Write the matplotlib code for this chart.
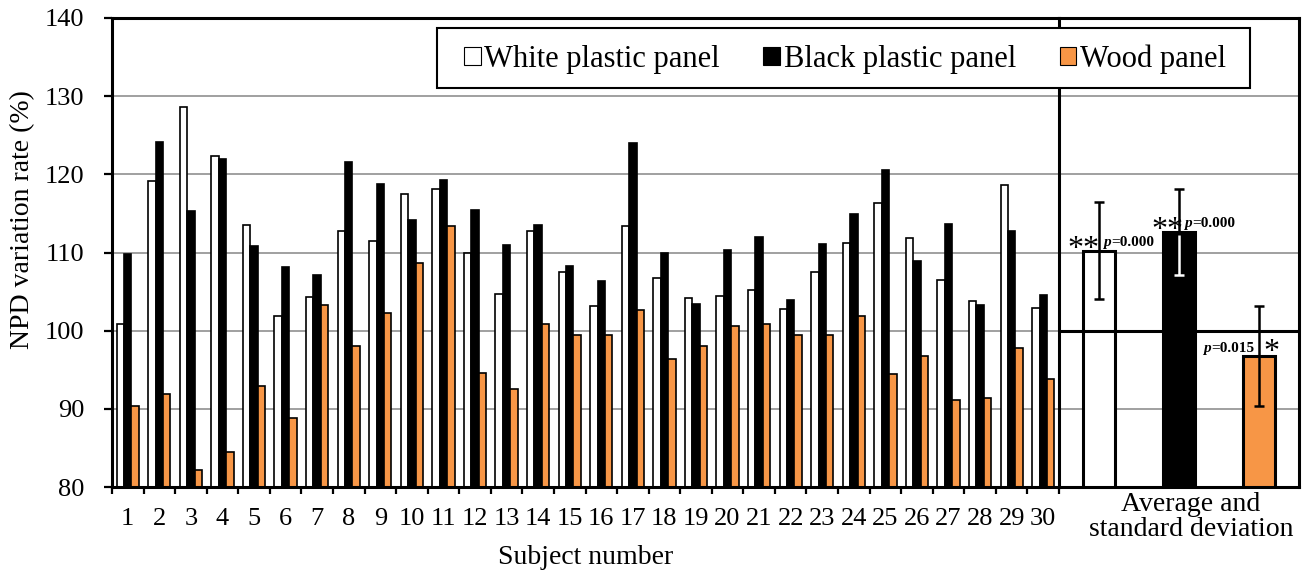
import numpy as np
import matplotlib.pyplot as plt
from matplotlib.patches import Patch, Rectangle

plt.rcParams['font.family'] = ['Liberation Serif', 'DejaVu Serif']

# Data

subjects = list(range(1, 31))
white = [100.8, 119.1, 128.6, 122.3, 113.5, 101.9, 104.3, 112.8, 111.5, 117.5,
         118.1, 110.0, 104.7, 112.8, 107.5, 103.1, 113.4, 106.8, 104.2, 104.4,
         105.2, 102.8, 107.5, 111.2, 116.3, 111.8, 106.5, 103.8, 118.6, 102.9]
black = [109.8, 124.2, 115.3, 122.0, 110.8, 108.1, 107.1, 121.6, 118.7, 114.1,
         119.3, 115.5, 110.9, 113.5, 108.3, 106.3, 124.0, 110.0, 103.4, 110.3,
         112.0, 103.9, 111.1, 114.9, 120.5, 108.9, 113.6, 103.3, 112.8, 104.5]
wood = [90.3, 91.9, 82.2, 84.5, 92.9, 88.8, 103.3, 98.0, 102.3, 108.7,
        113.4, 94.6, 92.6, 100.9, 99.4, 99.4, 102.6, 96.4, 98.1, 100.6,
        100.8, 99.5, 99.4, 101.9, 94.5, 96.8, 91.1, 91.4, 97.8, 93.8]

series_names = ["White plastic panel", "Black plastic panel", "Wood panel"]
avg_mean = [110.2, 112.6, 96.8]
avg_sd = [6.2, 5.5, 6.4]
p_values = ["=0.000", "=0.000", "=0.015"]
stars = ["**", "**", "*"]

orange = "#F79646"
colors = ["white", "black", orange]

# Figure layout (pixel based)

W, H = 1304, 573
fig = plt.figure(figsize=(W / 100, H / 100), dpi=100)

def fx(px):
    return px / W

def fy(py):
    return 1 - py / H

left, div, right, top, bottom = 112, 1059, 1299, 18, 487
ax = fig.add_axes([fx(left), fy(bottom), fx(div - left), (bottom - top) / H])
ax2 = fig.add_axes([fx(div), fy(bottom), fx(right - div), (bottom - top) / H])

# Main panel: per subject bars

x = np.arange(1, 31)
bw = 0.235
ax.bar(x - bw, white, bw, color="white", edgecolor="black", lw=1.2, zorder=2)
ax.bar(x, black, bw, color="black", edgecolor="black", lw=1.2, zorder=2)
ax.bar(x + bw, wood, bw, color=orange, edgecolor="black", lw=1.2, zorder=2)

ax.set_xlim(0.5, 30.5)
ax.set_ylim(80, 140)
ax.set_yticks(range(80, 141, 10))
ax.yaxis.grid(True, color="#999999", lw=1.3)
ax.set_axisbelow(True)
ax.set_xticks(np.arange(0.5, 31, 1))
ax.set_xticklabels([])
ax.set_xticks(x, [str(s) for s in subjects], minor=True)
ax.tick_params(axis="x", which="major", direction="out", length=5, width=1.6)
ax.tick_params(axis="x", which="minor", length=0, pad=15, labelsize=19)
ax.tick_params(axis="y", direction="out", length=6, width=1.6, pad=14, labelsize=19)
for s in ["left", "top", "bottom"]:
    ax.spines[s].set_linewidth(2.2)
ax.spines["right"].set_visible(False)

# Right panel: average and standard deviation

xa = np.arange(3) + 0.5
ax2.set_xlim(0, 3)
ax2.set_ylim(80, 140)
ax2.set_yticks(range(80, 141, 10))
ax2.yaxis.grid(True, color="#999999", lw=1.3)
ax2.set_axisbelow(True)
ax2.set_xticks([])
ax2.tick_params(axis="y", left=False, labelleft=False)
for s in ax2.spines.values():
    s.set_linewidth(2.2)

ax2.bar(xa, avg_mean, 0.41, color=colors, edgecolor="black", lw=2.2, zorder=2)
ax2.axhline(100, color="black", lw=2.2, zorder=2.5)
ax2.errorbar(xa, avg_mean, yerr=avg_sd, fmt="none", ecolor="black",
             elinewidth=1.8, capsize=3.5, capthick=1.8, zorder=3)
k = colors.index("black")
ax2.vlines(xa[k], avg_mean[k] - avg_sd[k], avg_mean[k] - 0.3, color="white", lw=1.8, zorder=3.5)
ax2.plot(xa[k], avg_mean[k] - avg_sd[k], marker="_", ms=7, mew=1.8, color="white", zorder=3.5)

# significance marks
star_x = [0.31, 1.35, 2.65]
star_y = [109.4, 111.9, 96.3]
split_x = [0.65, 1.66, 1.90]
p_y = [110.8, 113.2, 97.3]
for i in range(3):
    ax2.text(star_x[i], star_y[i], stars[i], ha="center", va="baseline",
             fontsize=23, zorder=4)
    ax2.text(split_x[i], p_y[i], "p", ha="right", va="baseline",
             fontsize=11, fontweight="bold", style="italic", zorder=4)
    ax2.text(split_x[i], p_y[i], p_values[i], ha="left", va="baseline",
             fontsize=11, fontweight="bold", zorder=4)

# Labels

fig.text(fx(586), fy(557), "Subject number", ha="center", va="center", fontsize=20)
fig.text(fx(23), fy(220), "NPD variation rate (%)", ha="center", va="center",
         rotation=90, fontsize=20)
fig.text(fx(1191), fy(492), "Average and\nstandard deviation", ha="center", va="top",
         fontsize=20, linespacing=1.0)

# Legend with its own frame

frame = Rectangle((fx(437), fy(88)), fx(1250 - 437), (88 - 28) / H,
                  transform=fig.transFigure, facecolor="white", edgecolor="black",
                  lw=1.5, zorder=4.5)
fig.add_artist(frame)
handles = [Patch(facecolor=c, edgecolor="black", lw=0.8) for c in colors]
fig.legend(handles, series_names, loc="center left", mode="expand", ncol=3,
           bbox_to_anchor=(fx(464), fy(59), fx(1226 - 464), 0.0),
           frameon=False, borderpad=0, borderaxespad=0, fontsize=22,
           handlelength=0.55, handleheight=0.55, handletextpad=0.12)

fig.savefig("out.png", dpi=100)
